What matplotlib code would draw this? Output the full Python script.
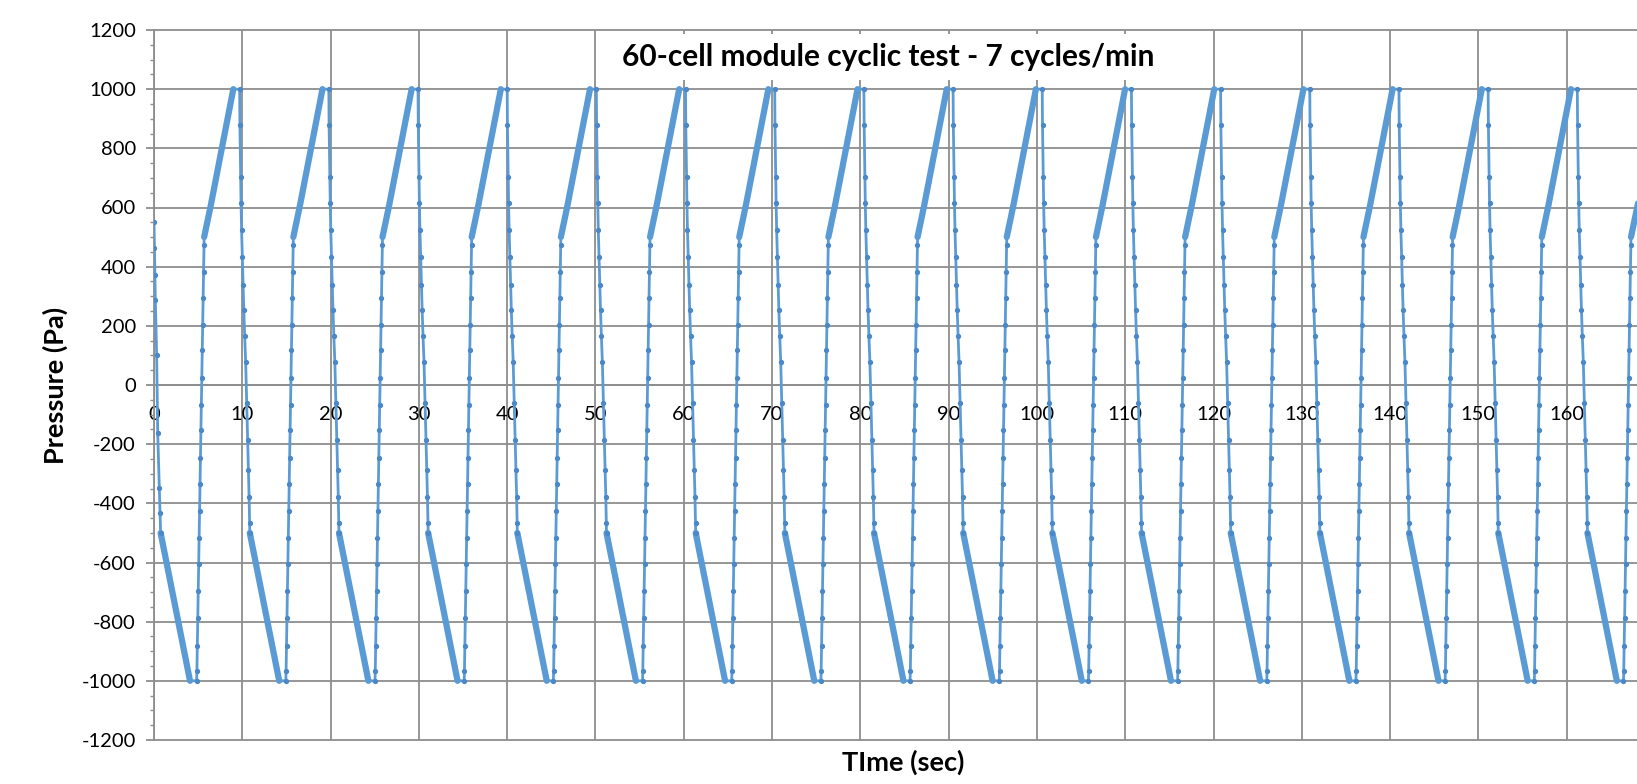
import numpy as np
import matplotlib
matplotlib.use("Agg")
import matplotlib.pyplot as plt
from matplotlib.ticker import MultipleLocator

plt.rcParams['font.family'] = ['Lato', 'DejaVu Sans']
plt.rcParams['axes.unicode_minus'] = False

# Dados lidos do gráfico
# instante (s) em que cada ciclo começa a cair a partir de +1000 Pa
fall_starts = [-0.40, 9.70, 19.80, 29.90, 40.00, 50.10, 60.20, 70.30, 80.40,
               90.50, 100.60, 110.70, 120.80, 130.90, 141.00, 151.10, 161.20]

# início do registro (t=0), queda parcial até -500 Pa
lead_t = [0.00, 0.05, 0.10, 0.15, 0.30, 0.42, 0.60, 0.68, 0.75]
lead_p = [552, 463, 372, 287, 101, -162, -348, -433, -500]

# queda rápida (tempo relativo ao início do ciclo)
fall_dt = [0.00, 0.03, 0.11, 0.16, 0.22, 0.30, 0.38, 0.47, 0.57, 0.68,
           0.80, 0.90, 0.99, 1.07, 1.13, 1.15]
fall_p = [1000, 879, 704, 614, 524, 434, 338, 254, 165, 79,
          -62, -186, -287, -378, -467, -500]

# rampa lenta de -500 a -1000 Pa
ramp_down_dt = [1.15, 4.48]
ramp_down_p = [-500, -1000]

# subida rápida de -1000 a +500 Pa
rise_dt = [5.23, 5.26, 5.31, 5.36, 5.41, 5.46, 5.51, 5.56, 5.61, 5.66,
           5.71, 5.76, 5.81, 5.86, 5.91, 5.96, 6.01, 6.06]
rise_p = [-1000, -966, -882, -786, -696, -606, -516, -426, -336, -247,
          -152, -68, 24, 118, 203, 294, 383, 473]

# rampa lenta de +500 a +1000 Pa
ramp_up_dt = [6.08, 6.85, 9.38]
ramp_up_p = [500, 610, 1000]

blue = '#5B9BD5'
dot_blue = '#4A88C8'
grid_gray = '#8E8E8E'

# montar a série
all_t, all_p = [], []
dots_t, dots_p = [], []
ramps_t, ramps_p = [], []
for i, t0 in enumerate(fall_starts):
    if i == 0:
        ft = list(lead_t)
        fp = list(lead_p)
    else:
        ft = [t0 + d for d in fall_dt]
        fp = list(fall_p)
    rt = [t0 + d for d in rise_dt]
    rdt = [t0 + d for d in ramp_down_dt]
    rut = [t0 + d for d in ramp_up_dt]
    all_t += ft + rdt + rt + rut
    all_p += fp + ramp_down_p + rise_p + ramp_up_p
    dots_t += ft + rt
    dots_p += fp + rise_p
    ramps_t += rdt + [np.nan] + rut + [np.nan]
    ramps_p += ramp_down_p + [np.nan] + ramp_up_p + [np.nan]

W, H = 1637, 784
fig = plt.figure(figsize=(W / 100, H / 100), dpi=100)
ax = fig.add_axes([154 / W, 44 / H, (1655 - 154) / W, 710 / H])

ax.plot(all_t, all_p, color=blue, lw=2.0, zorder=4, solid_joinstyle='round')
ax.plot(ramps_t, ramps_p, color=blue, lw=4.5, zorder=4, solid_capstyle='round')
ax.plot(dots_t, dots_p, ls='none', marker='o', ms=2.8, color=dot_blue, zorder=5)

ax.set_xlim(0, 170)
ax.set_ylim(-1200, 1200)
ax.set_xticks(list(range(0, 171, 10)))
ax.yaxis.set_major_locator(MultipleLocator(200))
ax.yaxis.set_minor_locator(MultipleLocator(50))

ax.grid(True, which='major', color=grid_gray, lw=1.3)
ax.set_axisbelow(True)
for ln in ax.get_xgridlines() + ax.get_ygridlines():
    ln.set_clip_on(False)

for s in ['top', 'right']:
    ax.spines[s].set_visible(False)
ax.spines['left'].set_color(grid_gray)
ax.spines['left'].set_linewidth(1.3)
ax.spines['bottom'].set_position(('data', 0))
ax.spines['bottom'].set_color(grid_gray)
ax.spines['bottom'].set_linewidth(1.3)

ax.tick_params(axis='x', length=0, pad=15, labelsize=14.5, colors='black')
ax.tick_params(axis='y', which='major', length=6, width=1.3, color=grid_gray,
               labelsize=14.5, pad=7)
ax.tick_params(axis='y', which='minor', length=3, width=1.0, color=grid_gray)

fig.text((613 + 1163) / 2 / W, 1 - 57 / H, "60-cell module cyclic test - 7 cycles/min",
         ha='center', va='center', fontsize=21.5, fontweight='bold',
         bbox=dict(boxstyle='square,pad=0.3', fc='white', ec='none'))
fig.text(903 / W, 1 - 762 / H, "TIme (sec)", ha='center', va='center',
         fontsize=19.5, fontweight='bold')
fig.text(55 / W, 1 - 385 / H, "Pressure (Pa)", ha='center', va='center',
         rotation=90, fontsize=19.5, fontweight='bold')

fig.savefig("out.png", dpi=100, facecolor='white')
